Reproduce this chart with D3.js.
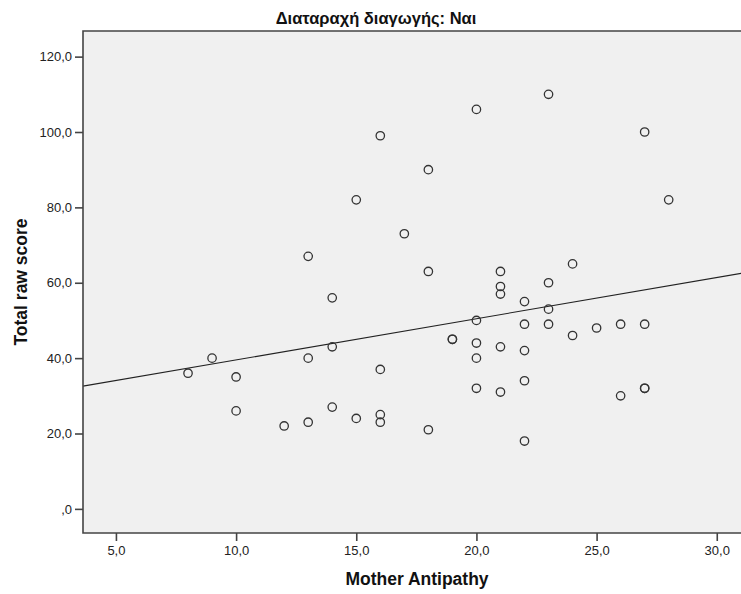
<!DOCTYPE html>
<html>
<head>
<meta charset="utf-8">
<script src="https://cdn.jsdelivr.net/npm/d3@7"></script>
<style>
  html, body { margin: 0; padding: 0; background: #ffffff; }
  svg { display: block; font-family: "Liberation Sans", Arial, sans-serif; }
</style>
</head>
<body>
<svg id="chart" width="741" height="594"></svg>
<script>
// ---- data ----
const chartTitle = "Διαταραχή διαγωγής: Ναι";
const xLabel = "Mother Antipathy";
const yLabel = "Total raw score";

const motherAntipathy = [
  8, 9, 10, 10, 12, 13, 13, 13, 14, 14, 14, 15, 15, 16, 16, 16, 16, 17,
  18, 18, 18, 19, 19, 20, 20, 20, 20, 20, 21, 21, 21, 21, 21, 22, 22, 22,
  22, 22, 23, 23, 23, 23, 24, 24, 25, 26, 26, 27, 27, 27, 27, 28
];
const totalRawScore = [
  36, 40, 35, 26, 22, 67, 40, 23, 56, 43, 27, 82, 24, 99, 37, 25, 23, 73,
  90, 63, 21, 45, 45, 106, 50, 44, 40, 32, 63, 59, 57, 43, 31, 55, 49, 42,
  34, 18, 110, 60, 53, 49, 65, 46, 48, 49, 30, 100, 49, 32, 32, 82
];

const xTicks = [5, 10, 15, 20, 25, 30];
const yTicks = [0, 20, 40, 60, 80, 100, 120];
const fitIntercept = 28.6;   // fit line
const fitSlope = 1.093;

const xDomain = [3.63, 31.05];
const yDomain = [-6.4, 126.8];

// ---- layout ----
const svg = d3.select("#chart");
const plot = { left: 83, top: 31, right: 742, bottom: 533 };

const x = d3.scaleLinear().domain(xDomain).range([plot.left, plot.right]);
const y = d3.scaleLinear().domain(yDomain).range([plot.bottom, plot.top]);

const fmt = v => (v === 0 ? ",0" : d3.format(".1f")(v).replace(".", ","));

// plot background
svg.append("rect")
  .attr("x", plot.left).attr("y", plot.top)
  .attr("width", plot.right - plot.left).attr("height", plot.bottom - plot.top)
  .attr("fill", "#f0f0f0");

// axes
const yAxis = d3.axisLeft(y).tickValues(yTicks).tickFormat(fmt).tickSize(8).tickSizeOuter(0).tickPadding(3);
const xAxis = d3.axisBottom(x).tickValues(xTicks).tickFormat(fmt).tickSize(8).tickSizeOuter(0).tickPadding(5);

const gy = svg.append("g").attr("transform", `translate(${plot.left},0)`).call(yAxis);
const gx = svg.append("g").attr("transform", `translate(0,${plot.bottom})`).call(xAxis);
[gx, gy].forEach(g => {
  g.select(".domain").remove();
  g.selectAll(".tick line").attr("stroke", "#444").attr("stroke-width", 1.6);
  g.selectAll(".tick text").attr("fill", "#222").attr("font-size", 13)
    .attr("font-family", "'Liberation Sans', Arial, sans-serif");
});

// fit line
const fitX = xDomain;
svg.append("line")
  .attr("x1", x(fitX[0])).attr("y1", y(fitIntercept + fitSlope * fitX[0]))
  .attr("x2", x(fitX[1])).attr("y2", y(fitIntercept + fitSlope * fitX[1]))
  .attr("stroke", "#222").attr("stroke-width", 1.1);

// points
const pts = motherAntipathy.map((v, i) => ({ x: v, y: totalRawScore[i] }));
svg.append("g").selectAll("circle").data(pts).join("circle")
  .attr("cx", d => x(d.x)).attr("cy", d => y(d.y)).attr("r", 4.2)
  .attr("fill", "none").attr("stroke", "#333").attr("stroke-width", 1.3);

// frame (left, top, bottom)
svg.append("path")
  .attr("d", `M${plot.right},${plot.top}H${plot.left}V${plot.bottom}H${plot.right}`)
  .attr("fill", "none").attr("stroke", "#444").attr("stroke-width", 1.6);

// titles
svg.append("text").attr("x", 376).attr("y", 23.5).attr("text-anchor", "middle")
  .attr("font-size", 16.5).attr("font-weight", "bold").attr("fill", "#111").text(chartTitle);

svg.append("text").attr("x", 417).attr("y", 585).attr("text-anchor", "middle")
  .attr("font-size", 17.5).attr("font-weight", "bold").attr("fill", "#111").text(xLabel);

svg.append("text").attr("transform", "translate(27,282) rotate(-90)").attr("text-anchor", "middle")
  .attr("font-size", 17.5).attr("font-weight", "bold").attr("fill", "#111").text(yLabel);
</script>
</body>
</html>
